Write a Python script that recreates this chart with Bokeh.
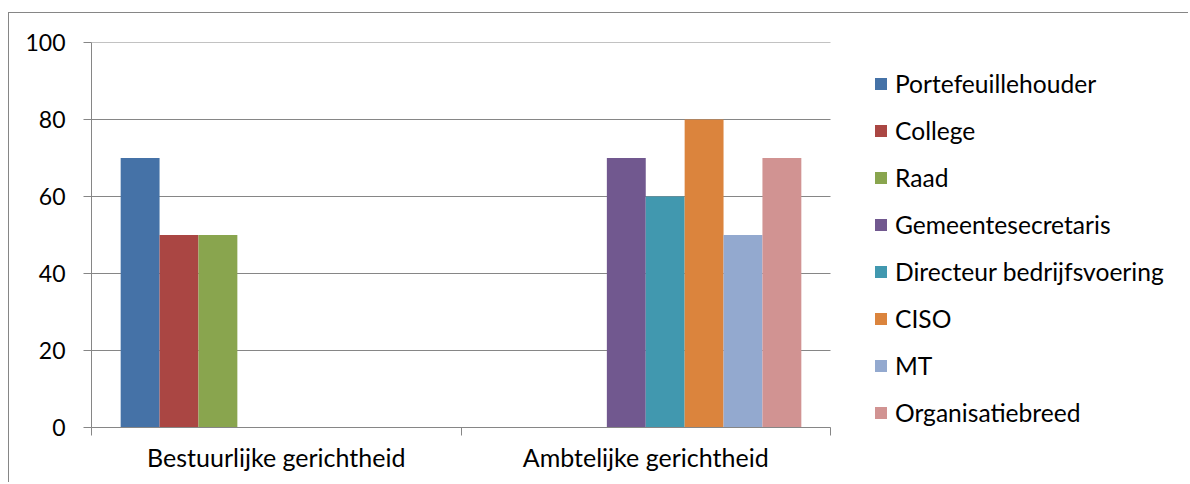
from bokeh.plotting import figure
from bokeh.models import ColumnDataSource, FixedTicker, Legend, LegendItem, Range1d
from bokeh.embed import file_html
from bokeh.resources import INLINE

categories = ["Bestuurlijke gerichtheid", "Ambtelijke gerichtheid"]
series = ["Portefeuillehouder", "College", "Raad", "Gemeentesecretaris",
          "Directeur bedrijfsvoering", "CISO", "MT", "Organisatiebreed"]
colors = ["#4572A7", "#AA4643", "#89A54E", "#71588F",
          "#4198AF", "#DB843D", "#93A9CF", "#D19392"]

portefeuillehouder = [70, None]
college = [50, None]
raad = [50, None]
gemeentesecretaris = [None, 70]
directeur_bedrijfsvoering = [None, 60]
ciso = [None, 80]
mt = [None, 50]
organisatiebreed = [None, 70]

values = [portefeuillehouder, college, raad, gemeentesecretaris,
          directeur_bedrijfsvoering, ciso, mt, organisatiebreed]

y_ticks = [0, 20, 40, 60, 80, 100]

FONT = "Lato"
GRAY = "#868686"

# layout (pixels)
FIG_W, FIG_H = 1180, 470
LEFT, TOP = 82, 29
CAT_PX = 739          # width of the category area
PLOT_PX = 385         # height from 0 to 100
frame_w = FIG_W - LEFT
ncat = len(categories)
x_end = ncat * frame_w / CAT_PX

n = len(series)
gap = 1.5
w = 1.0 / (n + gap)

p = figure(width=FIG_W, height=FIG_H, output_backend="svg", toolbar_location=None,
           x_range=Range1d(0, x_end), y_range=Range1d(0, 100),
           min_border_left=LEFT, min_border_right=0, min_border_top=TOP,
           min_border_bottom=FIG_H - TOP - PLOT_PX, outline_line_color=None,
           margin=(12, 0, 0, 8),
           styles={"border-left": "1px solid #868686", "border-top": "1px solid #868686"})

p.xgrid.visible = False
p.ygrid.visible = False
# horizontal gridlines across the category area only
p.segment(x0=[0] * len(y_ticks), x1=[ncat] * len(y_ticks), y0=y_ticks, y1=y_ticks,
          line_color=GRAY, line_width=1)

items = []
for j, (name, vals, col) in enumerate(zip(series, values, colors)):
    xs = [i + 0.5 + (j - (n - 1) / 2) * w for i in range(ncat)]
    tops = [float("nan") if v is None else v for v in vals]
    src = ColumnDataSource(dict(x=xs, top=tops))
    r = p.vbar(x="x", top="top", bottom=0, width=w, source=src,
               fill_color=col, line_color=None)
    items.append(LegendItem(label=name, renderers=[r]))

p.yaxis.ticker = FixedTicker(ticks=y_ticks)
p.yaxis.axis_line_color = GRAY
p.yaxis.major_tick_line_color = GRAY
p.yaxis.major_tick_out = 8
p.yaxis.major_tick_in = 0
p.yaxis.minor_tick_line_color = None
p.yaxis.major_label_standoff = 18
p.yaxis.major_label_text_font = FONT
p.yaxis.major_label_text_font_size = "23px"
p.yaxis.major_label_text_color = "#000000"

p.xaxis.ticker = FixedTicker(ticks=[i + 0.5 for i in range(ncat)],
                             minor_ticks=list(range(ncat + 1)))
p.xaxis.major_label_overrides = {i + 0.5: c for i, c in enumerate(categories)}
p.xaxis.bounds = (0, ncat)
p.xaxis.axis_line_color = GRAY
p.xaxis.major_tick_line_color = None
p.xaxis.major_tick_out = 0
p.xaxis.major_tick_in = 0
p.xaxis.minor_tick_line_color = GRAY
p.xaxis.minor_tick_out = 8
p.xaxis.minor_tick_in = 0
p.xaxis.major_label_standoff = 6
p.xaxis.major_label_text_font = FONT
p.xaxis.major_label_text_font_size = "25px"
p.xaxis.major_label_text_color = "#000000"

legend = Legend(items=items, location=(782, 0), orientation="vertical",
                border_line_color=None, background_fill_alpha=0,
                padding=0, margin=0, spacing=17,
                glyph_width=15, glyph_height=15, label_height=30,
                label_standoff=7,
                label_text_font=FONT, label_text_font_size="24.6px",
                label_text_color="#000000")
p.add_layout(legend, "center")

open("out.html", "w").write(file_html(p, INLINE))
